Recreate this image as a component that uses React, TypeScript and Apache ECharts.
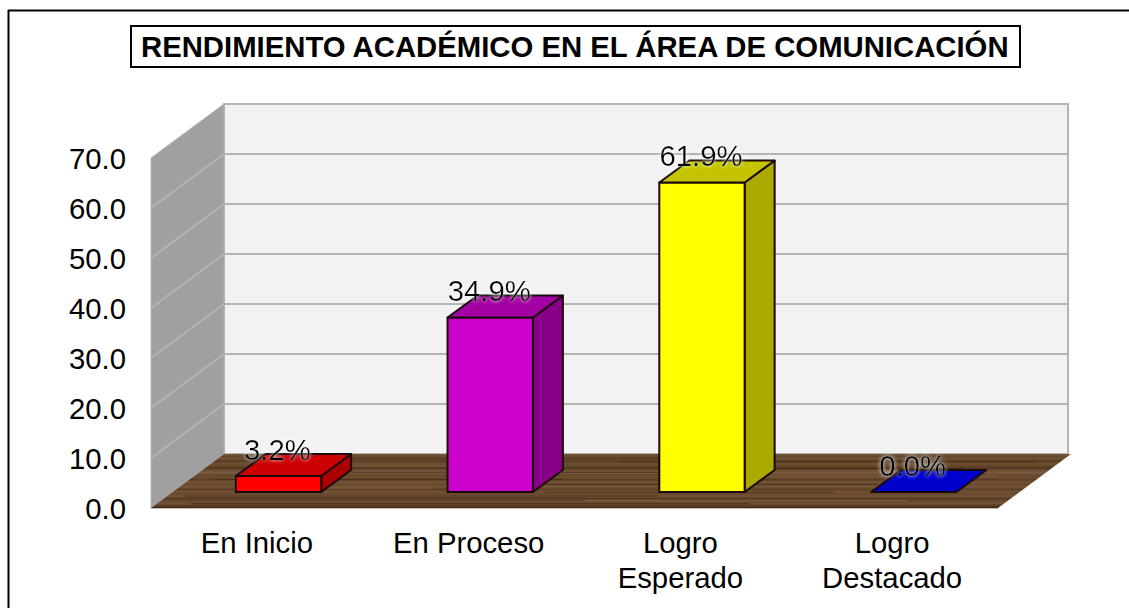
import React, { useEffect, useRef } from "react";
import * as echarts from "echarts";

const titleText = "RENDIMIENTO ACADÉMICO EN EL ÁREA DE COMUNICACIÓN";
const categories = ["En Inicio", "En Proceso", "Logro\nEsperado", "Logro\nDestacado"];
const values = [3.2, 34.9, 61.9, 0.0];
const barLabels = ["3.2%", "34.9%", "61.9%", "0.0%"];
const frontColors = ["#ff0000", "#cc00cc", "#ffff00", "#0000cc"];
const topColors = ["#cc0000", "#a300a3", "#c4c400", "#0000cc"];
const sideColors = ["#aa0000", "#880088", "#aaaa00", "#000099"];
const yTicks = [0, 10, 20, 30, 40, 50, 60, 70];
const woodBands = [
  "#75573b", "#664729", "#70513a", "#553a22", "#6d4e33", "#674829", "#523720", "#6f5034",
  "#7a5b44", "#65462c", "#6c4d30", "#583c23", "#745538", "#69492e", "#755638", "#5b3e25",
  "#705134", "#67482d", "#73543a", "#553a23", "#684930", "#715236", "#573c24", "#42291a",
];
// [height on floor, start, end, colour] as fractions of the floor
const woodStreaks: [number, number, number, string][] = [
  [0.08, 0.1, 0.52, "#3f2712"],
  [0.15, 0.48, 0.97, "#472d16"],
  [0.22, 0.05, 0.38, "#8a6c50"],
  [0.27, 0.62, 0.9, "#412914"],
  [0.34, 0.18, 0.6, "#472d16"],
  [0.41, 0.55, 0.95, "#8a6c50"],
  [0.47, 0.03, 0.44, "#412914"],
  [0.56, 0.36, 0.82, "#3f2712"],
  [0.63, 0.08, 0.3, "#8a6c50"],
  [0.71, 0.44, 0.78, "#472d16"],
  [0.78, 0.02, 0.58, "#412914"],
  [0.86, 0.5, 0.88, "#8a6c50"],
  [0.92, 0.04, 0.7, "#3f2712"],
];

const FONT = "'Liberation Sans', Arial, sans-serif";
const WALL = { dx: 73, dy: -54 };
const BAR_DEPTH = { dx: 30, dy: -22 };
const BAR_SHIFT = { dx: 21.6, dy: -16 };

function woodStops() {
  const n = woodBands.length - 1;
  return woodBands.map((color, i) => ({ offset: i / n, color }));
}

function renderScene(params: any, api: any) {
  const cs = params.coordSys;
  const l = cs.x;
  const r = cs.x + cs.width;
  const t = cs.y;
  const b = cs.y + cs.height;
  const { dx, dy } = WALL;
  const children: any[] = [
    {
      type: "polygon",
      shape: { points: [[l + dx, t + dy], [r + dx - 3, t + dy], [r + dx - 3, b + dy], [l + dx, b + dy]] },
      style: { fill: "#f2f2f2", stroke: "#b4b4b4", lineWidth: 2 },
    },
    {
      type: "polygon",
      shape: { points: [[l, t], [l + dx, t + dy], [l + dx, b + dy], [l, b]] },
      style: { fill: "#a0a0a0", stroke: "#b4b4b4", lineWidth: 1 },
    },
  ];
  yTicks.slice(1, -1).forEach((v) => {
    const y = api.coord([0, v])[1];
    children.push({
      type: "polyline",
      shape: { points: [[l, y], [l + dx, y + dy], [r + dx - 3, y + dy]] },
      style: { fill: "none", stroke: "#b4b4b4", lineWidth: 2 },
    });
  });
  children.push({
    type: "polygon",
    shape: { points: [[l, b], [r, b], [r + dx, b + dy], [l + dx, b + dy]] },
    style: {
      fill: { type: "linear", x: 0, y: 0, x2: 0, y2: 1, colorStops: woodStops() },
    },
  });
  woodStreaks.forEach(([h, s, e, color]) => {
    const y = b + dy * (1 - h);
    const ox = dx * (1 - h);
    children.push({
      type: "line",
      shape: { x1: l + ox + s * cs.width, y1: y, x2: l + ox + e * cs.width, y2: y },
      style: { stroke: color, lineWidth: 1, opacity: 0.7 },
    });
  });
  children.push({
    type: "line",
    shape: { x1: l, y1: b + 0.5, x2: r, y2: b + 0.5 },
    style: { stroke: "#c9b8a6", lineWidth: 1 },
  });
  return { type: "group", children };
}

function renderBar(params: any, api: any) {
  const i = api.value(0);
  const v = api.value(1);
  const base = api.coord([i, 0]);
  const top = api.coord([i, v]);
  const w = api.size([1, 0])[0] * 0.403;
  const x0 = base[0] + BAR_SHIFT.dx - w / 2;
  const x1 = x0 + w;
  const yb = base[1] + BAR_SHIFT.dy;
  const yt = top[1] + BAR_SHIFT.dy;
  const { dx, dy } = BAR_DEPTH;
  const line = { stroke: "#1a0a0a", lineWidth: 2, lineJoin: "round" };
  const children: any[] = [];
  if (v > 0) {
    children.push({
      type: "polygon",
      shape: { points: [[x1, yt], [x1 + dx, yt + dy], [x1 + dx, yb + dy], [x1, yb]] },
      style: { fill: sideColors[i], ...line },
    });
    children.push({
      type: "polygon",
      shape: { points: [[x0, yt], [x1, yt], [x1, yb], [x0, yb]] },
      style: { fill: frontColors[i], ...line },
    });
  }
  children.push({
    type: "polygon",
    shape: { points: [[x0, yt], [x1, yt], [x1 + dx, yt + dy], [x0 + dx, yt + dy]] },
    style: { fill: topColors[i], ...line },
  });
  children.push({
    type: "text",
    style: {
      text: barLabels[i],
      x: base[0] + BAR_SHIFT.dx - 1,
      y: yt - 27,
      align: "center",
      verticalAlign: "middle",
      font: `29.3px ${FONT}`,
      fill: "#000000",
      textShadowColor: "rgba(255,255,255,0.95)",
      textShadowBlur: 4,
    },
  });
  return { type: "group", children };
}

export default function App() {
  const ref = useRef<HTMLDivElement>(null);
  useEffect(() => {
    const chart = echarts.init(ref.current!, null, { renderer: "svg" });
    chart.setOption({
      animation: false,
      backgroundColor: "#ffffff",
      title: {
        text: titleText,
        left: 131,
        top: 26,
        padding: [6, 9, 6, 10],
        borderColor: "#000000",
        borderWidth: 2,
        textStyle: { fontFamily: FONT, fontSize: 29.3, fontWeight: "bold", color: "#000000" },
      },
      graphic: [
        { type: "line", shape: { x1: 8.5, y1: 10, x2: 8.5, y2: 608 }, style: { stroke: "#000", lineWidth: 2 } },
        { type: "line", shape: { x1: 8, y1: 10.5, x2: 1129, y2: 10.5 }, style: { stroke: "#000", lineWidth: 2 } },
      ],
      grid: { left: 151, top: 158, width: 847, height: 350, containLabel: false },
      xAxis: {
        type: "category",
        data: categories,
        axisLine: { show: false },
        axisTick: { show: false },
        axisLabel: { fontFamily: FONT, fontSize: 29.3, color: "#000", margin: 17, lineHeight: 35, interval: 0 },
      },
      yAxis: {
        type: "value",
        min: 0,
        max: 70,
        interval: 10,
        axisLine: { show: false },
        axisTick: { show: false },
        splitLine: { show: false },
        axisLabel: {
          fontFamily: FONT,
          fontSize: 29.3,
          color: "#000",
          margin: 25,
          padding: [6, 0, 0, 0],
          formatter: (v: number) => v.toFixed(1),
        },
      },
      series: [
        {
          type: "custom",
          name: "escena",
          data: [[0, 0]],
          clip: false,
          silent: true,
          z: 1,
          renderItem: renderScene,
        },
        {
          type: "custom",
          name: "Rendimiento",
          data: values.map((v, i) => [i, v]),
          encode: { x: 0, y: 1 },
          clip: false,
          z: 2,
          renderItem: renderBar,
        },
      ],
    });
    return () => chart.dispose();
  }, []);
  return <div ref={ref} style={{ position: "absolute", left: 0, top: 0, width: 1129, height: 608 }} />;
}
